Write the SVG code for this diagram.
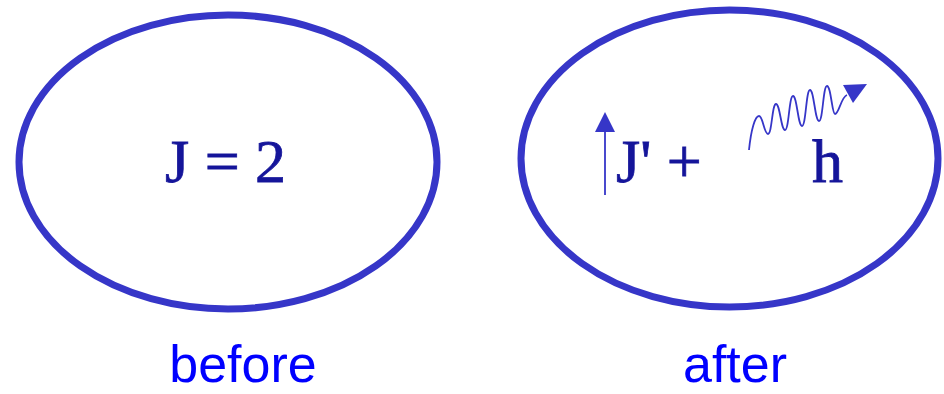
<svg xmlns="http://www.w3.org/2000/svg" width="944" height="394" viewBox="0 0 944 394">
<style>
.ell{fill:none;stroke:#3636c8;stroke-width:7}
.math{font-family:"Liberation Serif","Times New Roman",serif;font-size:62px;fill:#15159a;stroke:#15159a;stroke-width:0.8}
.lbl{font-family:"Liberation Sans",Arial,sans-serif;font-size:52px;fill:#0000ff;text-anchor:middle}
.thin{fill:none;stroke:#3636c8;stroke-width:1.8}
.head{fill:#3636c8}
</style>
<g id="before">
<ellipse class="ell" cx="228" cy="162" rx="209" ry="147"/>
<text class="math" x="165" y="182">J = 2</text>
</g>
<g id="after">
<ellipse class="ell" cx="729.5" cy="158.5" rx="208.5" ry="148.5"/>
<text class="math" x="616" y="182">J' +</text>
<text class="math" x="812" y="182">h</text>
</g>
<g id="connectors">
<line class="thin" x1="605" y1="195" x2="605" y2="128"/>
<polygon class="head" points="605,112 595,132 615,132"/>
<path class="thin" d="M749,150 C751,130 755,116 759,116 C763,116 764,134 768,134 C772,134 772,104 776,104 C780,104 781,130 785,130 C789,130 789,96 793,96 C797,96 798,126 802,126 C806,126 806,90 810,90 C814,90 815,121 819,121 C823,121 823,86 827,86 C831,86 832,114 835,114 C839,114 841,97 847,95"/>
<polygon class="head" points="867,84 843,85 853,103"/>
</g>
<g id="labels">
<text class="lbl" x="243" y="382">before</text>
<text class="lbl" x="735" y="382">after</text>
</g>
</svg>
